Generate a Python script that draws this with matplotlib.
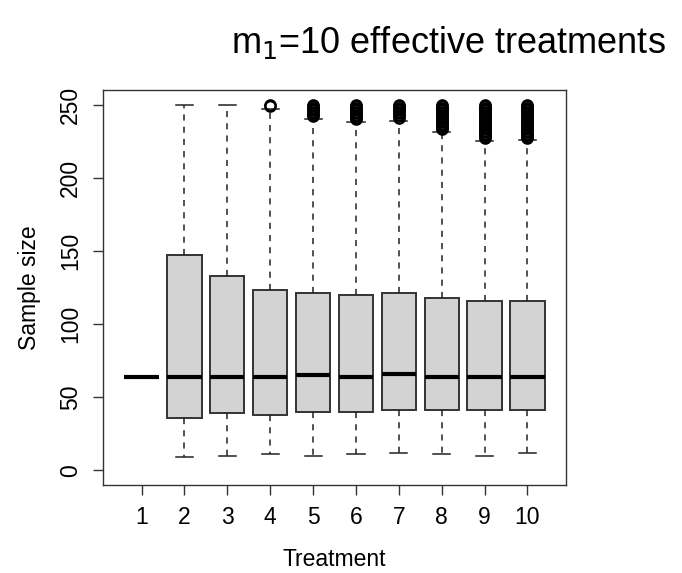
import matplotlib
matplotlib.use("Agg")
import matplotlib.pyplot as plt

plt.rcParams['font.family'] = ['Liberation Sans', 'DejaVu Sans']

# boxplot summary
treatments = [1, 2, 3, 4, 5, 6, 7, 8, 9, 10]
medians = [64, 64, 64, 64, 65, 64, 66, 64, 64, 64]
q1 = [64, 36, 39, 38, 40, 40, 41, 41, 41, 41]
q3 = [64, 147, 133, 123, 121, 120, 121, 118, 116, 116]
whis_lo = [64, 9, 10, 11, 10, 11, 12, 11, 10, 12]
whis_hi = [64, 250, 250, 247, 240, 238, 239, 231, 225, 226]
outliers = [
    [],
    [],
    [],
    [249, 250],
    [242, 243, 244, 245, 246, 247, 248, 249, 250],
    [240, 241, 242, 243, 244, 245, 246, 247, 248, 249, 250],
    [241, 242, 243, 244, 245, 246, 247, 248, 249, 250],
    [233, 234, 235, 236, 237, 238, 239, 240, 241, 242, 243, 244, 245, 246,
     247, 248, 249, 250],
    [227, 228, 229, 230, 231, 232, 233, 234, 235, 236, 237, 238, 239, 240,
     241, 242, 243, 244, 245, 246, 247, 248, 249, 250],
    [227, 228, 229, 230, 231, 232, 233, 234, 235, 236, 237, 238, 239, 240,
     241, 242, 243, 244, 245, 246, 247, 248, 249, 250],
]

stats = []
for i in range(len(treatments)):
    stats.append({
        "med": medians[i], "q1": q1[i], "q3": q3[i],
        "whislo": whis_lo[i], "whishi": whis_hi[i],
        "fliers": outliers[i], "label": str(treatments[i]),
    })

fig = plt.figure(figsize=(6.82, 5.73), dpi=100)
ax = fig.add_axes([0.151, 0.1536, 0.679, 0.6894])

ax.bxp(stats, positions=treatments, widths=0.8, capwidths=0.4,
       patch_artist=True,
       boxprops=dict(facecolor="#d3d3d3", edgecolor="#333333", linewidth=1.4),
       medianprops=dict(color="black", linewidth=3, solid_capstyle="butt"),
       whiskerprops=dict(color="#222222", linewidth=1.1, linestyle=(0, (4, 4))),
       capprops=dict(color="#222222", linewidth=1.1),
       flierprops=dict(marker="o", markerfacecolor="none", markeredgecolor="black",
                       markersize=7.5, markeredgewidth=1.6))

ax.set_xlim(0.1, 10.9)
ax.set_ylim(-10, 260)
ax.set_xticks(treatments)
ax.set_xticklabels([str(t) for t in treatments])
ax.set_yticks([0, 50, 100, 150, 200, 250])
ax.set_yticklabels(["0", "50", "100", "150", "200", "250"], rotation=90, va="center")
ax.tick_params(labelsize=16.5, length=7, width=1, color="#333333", pad=8)
for s in ax.spines.values():
    s.set_color("#333333")
    s.set_linewidth(1)

ax.set_xlabel("Treatment", fontsize=16.5, labelpad=14)
ax.set_ylabel("Sample size", fontsize=16.5, labelpad=13)
fig.text(0.657, 0.925, "m$_1$=10 effective treatments", fontsize=26,
         ha="center", va="center")

fig.savefig("out.png", dpi=100)
